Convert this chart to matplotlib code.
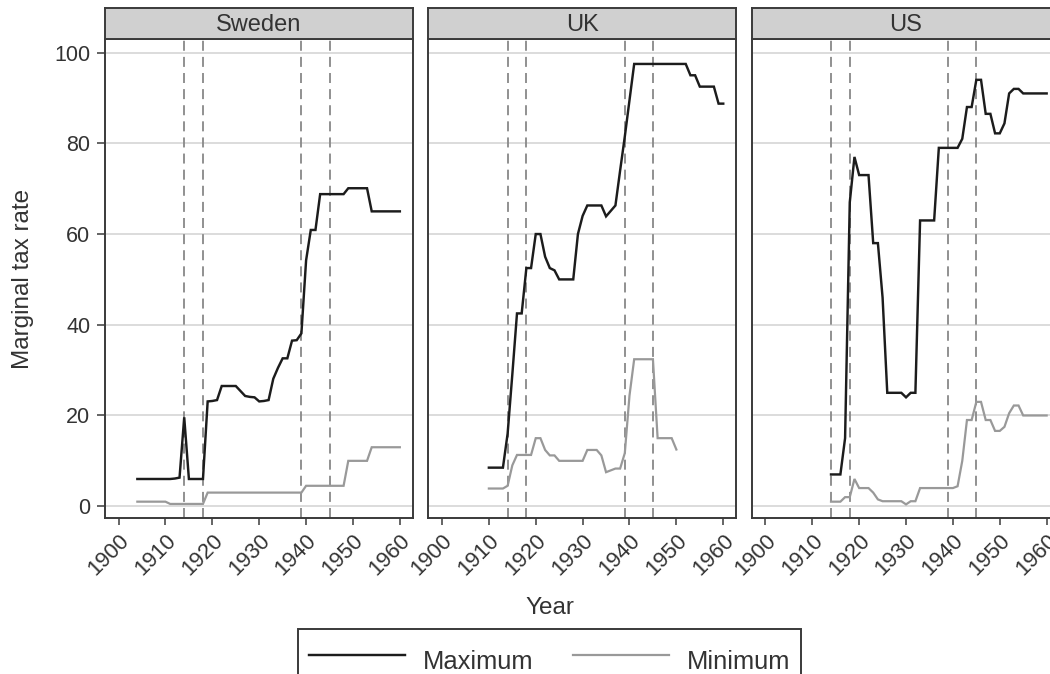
import numpy as np
import matplotlib
matplotlib.use("Agg")
import matplotlib.pyplot as plt

plt.rcParams['font.family'] = ['Liberation Sans', 'DejaVu Sans']
plt.rcParams['lines.scale_dashes'] = False

# ---- data -------------------------------------------------------------
countries = ["Sweden", "UK", "US"]

sweden_years = np.arange(1904, 1961)
sweden_max = [6, 6, 6, 6, 6, 6, 6, 6, 6.1, 6.3, 19.6, 6, 6, 6, 6,
              23.1, 23.2, 23.4, 26.5, 26.5, 26.5, 26.5, 25.4, 24.3, 24.1,
              24.0, 23.1, 23.2, 23.4, 28.1, 30.5, 32.6, 32.6, 36.5, 36.6,
              38.1, 54.2, 60.9, 60.9, 68.8, 68.8, 68.8, 68.8, 68.8, 68.8,
              70.1, 70.1, 70.1, 70.1, 70.1, 65, 65, 65, 65, 65, 65, 65]
sweden_min = [1.0] * 7 + [0.5] * 8 + [3.0] * 21 + [4.5] * 9 + [10] * 5 + [13] * 7

uk_max_years = np.arange(1910, 1961)
uk_max = [8.5, 8.5, 8.5, 8.5, 16, 29, 42.5, 42.5, 52.5, 52.5, 60, 60, 55,
          52.5, 52, 50, 50, 50, 50, 60, 64, 66.3, 66.3, 66.3, 66.3, 63.9,
          65.1, 66.3, 74, 81.5, 89.5] + [97.5] * 12 + \
         [95, 95, 92.5, 92.5, 92.5, 92.5, 88.75, 88.75]
uk_min_years = np.arange(1910, 1951)
uk_min = [3.9, 3.9, 3.9, 3.9, 4.5, 9, 11.3, 11.3, 11.3, 11.3, 15, 15, 12.4,
          11.2, 11.2, 10, 10, 10, 10, 10, 10, 12.4, 12.4, 12.4, 11.2, 7.5,
          7.9, 8.3, 8.3, 11.7, 24.4, 32.4, 32.4, 32.4, 32.4, 32.4,
          15, 15, 15, 15, 12.5]

us_years = np.arange(1914, 1961)
us_max = [7, 7, 7, 15, 67, 77, 73, 73, 73, 58, 58, 46, 25, 25, 25, 25, 24,
          25, 25, 63, 63, 63, 63, 79, 79, 79, 79, 79, 81, 88, 88, 94, 94,
          86.5, 86.5, 82.2, 82.2, 84.4, 91, 92, 92, 91, 91, 91, 91, 91, 91]
us_min = [1.0, 1.0, 1.0, 2, 2, 6, 4, 4, 4, 3, 1.5, 1.1, 1.1, 1.1, 1.1, 1.1,
          0.4, 1.1, 1.1, 4, 4, 4, 4, 4, 4, 4, 4, 4.4, 10, 19, 19, 23, 23,
          19, 19, 16.6, 16.6, 17.5, 20.5, 22.2, 22.2, 20, 20, 20, 20, 20, 20]

series = {
    "Sweden": ((sweden_years, sweden_max), (sweden_years, sweden_min)),
    "UK": ((uk_max_years, uk_max), (uk_min_years, uk_min)),
    "US": ((us_years, us_max), (us_years, us_min)),
}

war_years = [1914, 1918, 1939, 1945]
x_ticks = [1900, 1910, 1920, 1930, 1940, 1950, 1960]
y_ticks = [0, 20, 40, 60, 80, 100]

# ---- styling ----------------------------------------------------------
MAX_COLOR = "#1c1c1c"
MIN_COLOR = "#999999"
DASH_COLOR = "#8c8c8c"
GRID_COLOR = "#d6d6d6"
FRAME_COLOR = "#3a3a3a"
TEXT_COLOR = "#333333"
STRIP_COLOR = "#d0d0d0"

W, H = 1050, 674
fig = plt.figure(figsize=(W / 100, H / 100), dpi=100)
fig.patch.set_facecolor("white")

panel_lefts = [105, 428.4, 751.8]
panel_w = 307.5
top_px, bottom_px, strip_top = 39, 518, 8

for i, name in enumerate(countries):
    left = panel_lefts[i]
    ax = fig.add_axes([left / W, 1 - bottom_px / H, panel_w / W,
                       (bottom_px - top_px) / H])
    ax.set_facecolor("white")
    ax.set_xlim(1897.1, 1962.7)
    ax.set_ylim(-2.6, 103)

    for y in y_ticks:
        ax.axhline(y, color=GRID_COLOR, lw=1.2, zorder=1)
    for yr in war_years:
        ax.axvline(yr, color=DASH_COLOR, lw=1.35, dashes=(7.2, 4.4), zorder=2)

    (xs_max, ys_max), (xs_min, ys_min) = series[name]
    ax.plot(xs_min, ys_min, color=MIN_COLOR, lw=1.6, zorder=3,
            solid_joinstyle="miter")
    ax.plot(xs_max, ys_max, color=MAX_COLOR, lw=1.75, zorder=4,
            solid_joinstyle="miter")

    for sp in ax.spines.values():
        sp.set_color(FRAME_COLOR)
        sp.set_linewidth(1.4)

    ax.set_xticks(x_ticks)
    ax.set_xticklabels([str(t) for t in x_ticks], rotation=45, ha="right",
                       va="top", rotation_mode="anchor")
    ax.tick_params(axis="x", length=5, width=1.1, color=FRAME_COLOR,
                   labelsize=15.8, labelcolor=TEXT_COLOR, pad=4)
    ax.set_yticks(y_ticks)
    if i == 0:
        ax.tick_params(axis="y", length=6, width=1.1, color=FRAME_COLOR,
                       labelsize=15.5, labelcolor=TEXT_COLOR, pad=4.5)
    else:
        ax.tick_params(axis="y", length=0, labelleft=False)

    # facet strip
    sax = fig.add_axes([left / W, 1 - top_px / H, panel_w / W,
                        (top_px - strip_top) / H])
    sax.set_facecolor(STRIP_COLOR)
    sax.set_xticks([])
    sax.set_yticks([])
    for sp in sax.spines.values():
        sp.set_color(FRAME_COLOR)
        sp.set_linewidth(1.4)
    sax.text(0.5, 0.45, name, transform=sax.transAxes, ha="center",
             va="center", fontsize=17, color=TEXT_COLOR)

    if i == 0:
        h_max, = ax.plot([], [], color=MAX_COLOR, lw=1.75, label="Maximum")
        h_min, = ax.plot([], [], color=MIN_COLOR, lw=1.6, label="Minimum")

fig.text(23 / W, 1 - 278.5 / H, "Marginal tax rate", rotation=90,
         ha="center", va="center", fontsize=17.5, color=TEXT_COLOR)
fig.text(550 / W, 1 - 608 / H, "Year", ha="center", va="center",
         fontsize=17.5, color=TEXT_COLOR)

leg = fig.legend(handles=[h_max, h_min], loc="upper left",
                 bbox_to_anchor=(298 / W, 1 - 629 / H),
                 bbox_transform=fig.transFigure, ncol=2, fontsize=18.4,
                 frameon=True, fancybox=False, framealpha=1,
                 edgecolor=FRAME_COLOR, handlelength=3.75,
                 handletextpad=0.7, columnspacing=1.56, borderpad=0.43,
                 handleheight=2.2, borderaxespad=0)
leg.get_frame().set_linewidth(1.4)
for t in leg.get_texts():
    t.set_color(TEXT_COLOR)

fig.savefig("out.png", dpi=100)
